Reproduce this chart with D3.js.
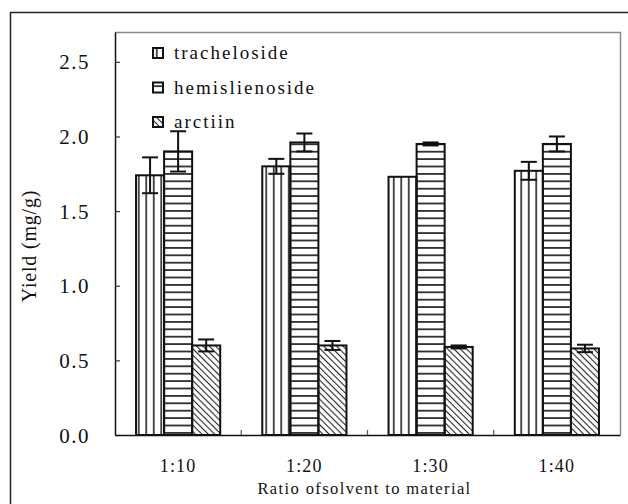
<!DOCTYPE html>
<html>
<head>
<meta charset="utf-8">
<script src="https://cdn.jsdelivr.net/npm/d3@7"></script>
<style>
  body { margin: 0; background: #fff; }
  svg text { font-family: 'Liberation Serif', 'Times New Roman', serif; fill: #111; }
</style>
</head>
<body>
<svg id="chart" width="628" height="504"></svg>
<script>
const categories = ['1:10', '1:20', '1:30', '1:40'];
const seriesNames = ['tracheloside', 'hemislienoside', 'arctiin'];
const tracheloside = [1.74, 1.80, 1.73, 1.77];
const trachelosideErr = [0.12, 0.05, 0.0, 0.06];
const hemislienoside = [1.90, 1.96, 1.95, 1.95];
const hemislienosideErr = [0.135, 0.06, 0.01, 0.05];
const arctiin = [0.60, 0.60, 0.59, 0.58];
const arctiinErr = [0.04, 0.03, 0.01, 0.025];
const yTicks = [0, 0.5, 1.0, 1.5, 2.0, 2.5];

const values = [tracheloside, hemislienoside, arctiin];
const errors = [trachelosideErr, hemislienosideErr, arctiinErr];

const svg = d3.select('#chart');
const margin = { top: 32, right: 8, bottom: 69, left: 115 };
const width = +svg.attr('width') - margin.left - margin.right;
const height = +svg.attr('height') - margin.top - margin.bottom;
const serif = "'Liberation Serif', 'Times New Roman', serif";

// outer frame (runs off the right and bottom edges)
svg.append('rect')
    .attr('x', 10.5).attr('y', 12.5)
    .attr('width', 700).attr('height', 600)
    .attr('fill', 'none').attr('stroke', '#222').attr('stroke-width', 1.5);

// patterns
const defs = svg.append('defs');
const pv = defs.append('pattern').attr('id', 'pat-v')
    .attr('patternUnits', 'userSpaceOnUse').attr('width', 7.5).attr('height', 10);
pv.append('line').attr('x1', 3.75).attr('x2', 3.75).attr('y1', 0).attr('y2', 10)
    .attr('stroke', '#222').attr('stroke-width', 1.6);
const ph = defs.append('pattern').attr('id', 'pat-h')
    .attr('patternUnits', 'userSpaceOnUse').attr('width', 10).attr('height', 7.4);
ph.append('line').attr('x1', 0).attr('x2', 10).attr('y1', 3.7).attr('y2', 3.7)
    .attr('stroke', '#333').attr('stroke-width', 1.8);
const pd = defs.append('pattern').attr('id', 'pat-d')
    .attr('patternUnits', 'userSpaceOnUse').attr('width', 4.5).attr('height', 4.5)
    .attr('patternTransform', 'rotate(45)');
pd.append('line').attr('x1', 0).attr('x2', 4.5).attr('y1', 2.25).attr('y2', 2.25)
    .attr('stroke', '#222').attr('stroke-width', 1.1);
const fills = ['url(#pat-v)', 'url(#pat-h)', 'url(#pat-d)'];

const x = d3.scaleBand()
    .domain(categories)
    .range([margin.left, margin.left + width]);

const xSub = d3.scaleBand()
    .domain(seriesNames)
    .range([0, x.bandwidth()])
    .paddingInner(0)
    .paddingOuter(0.75);

const y = d3.scaleLinear()
    .domain([0, 2.7])
    .range([margin.top + height, margin.top]);

// plot frame: top and right in grey
svg.append('path')
    .attr('d', `M${margin.left},${margin.top + 0.5}H${margin.left + width + 0.5}V${margin.top + height}`)
    .attr('fill', 'none').attr('stroke', '#8a8a8a').attr('stroke-width', 1.5);

// bars
const rows = [];
categories.forEach((c, i) => {
    seriesNames.forEach((s, j) => {
        rows.push({ cat: c, series: s, si: j, value: values[j][i], err: errors[j][i] });
    });
});

const g = svg.append('g');
g.selectAll('rect.bar')
    .data(rows)
    .join('rect')
    .attr('class', 'bar')
    .attr('x', d => x(d.cat) + xSub(d.series))
    .attr('y', d => y(d.value))
    .attr('width', xSub.bandwidth())
    .attr('height', d => y(0) - y(d.value))
    .attr('fill', '#fff');

g.selectAll('rect.pat')
    .data(rows)
    .join('rect')
    .attr('class', 'pat')
    .attr('x', d => x(d.cat) + xSub(d.series))
    .attr('y', d => y(d.value))
    .attr('width', xSub.bandwidth())
    .attr('height', d => y(0) - y(d.value))
    .attr('fill', d => fills[d.si])
    .attr('stroke', '#111')
    .attr('stroke-width', 2);

// error bars
const capW = 8;
const eb = g.selectAll('g.err')
    .data(rows.filter(d => d.err > 0))
    .join('g')
    .attr('class', 'err')
    .attr('stroke', '#111')
    .attr('stroke-width', 2);
eb.append('line')
    .attr('x1', d => x(d.cat) + xSub(d.series) + xSub.bandwidth() / 2)
    .attr('x2', d => x(d.cat) + xSub(d.series) + xSub.bandwidth() / 2)
    .attr('y1', d => y(d.value + d.err))
    .attr('y2', d => y(d.value - d.err));
eb.selectAll('line.cap')
    .data(d => [d.value + d.err, d.value - d.err].map(v => ({ d, v })))
    .join('line')
    .attr('class', 'cap')
    .attr('x1', o => x(o.d.cat) + xSub(o.d.series) + xSub.bandwidth() / 2 - capW)
    .attr('x2', o => x(o.d.cat) + xSub(o.d.series) + xSub.bandwidth() / 2 + capW)
    .attr('y1', o => y(o.v))
    .attr('y2', o => y(o.v));

// y axis
const yAxis = svg.append('g')
    .attr('transform', `translate(${margin.left},0)`)
    .call(d3.axisLeft(y).tickValues(yTicks).tickFormat(d3.format('.1f')).tickSizeInner(-5).tickSizeOuter(0))
    .attr('font-family', serif);
yAxis.select('.domain').attr('stroke', '#111').attr('stroke-width', 1.5);
yAxis.selectAll('.tick line').attr('stroke', '#333').attr('stroke-width', 1.2);
yAxis.selectAll('.tick text')
    .attr('x', -25)
    .attr('dy', '0.34em')
    .attr('font-size', 21)
    .attr('letter-spacing', 1.5);

// x axis
const xAxis = svg.append('g')
    .attr('transform', `translate(0,${margin.top + height})`)
    .call(d3.axisBottom(x).tickSize(0).tickPadding(24))
    .attr('font-family', serif);
xAxis.select('.domain').attr('stroke', '#111').attr('stroke-width', 1.5);
xAxis.selectAll('.tick text')
    .attr('font-size', 18)
    .attr('letter-spacing', 1.2);

// separators between categories
svg.append('g')
    .selectAll('line')
    .data(categories.slice(1))
    .join('line')
    .attr('x1', d => x(d)).attr('x2', d => x(d))
    .attr('y1', y(0)).attr('y2', y(0) - 5)
    .attr('stroke', '#555').attr('stroke-width', 1.2);

// axis titles
svg.append('text')
    .attr('x', margin.left + width / 2 - 3)
    .attr('y', 494)
    .attr('text-anchor', 'middle')
    .attr('font-size', 16.5)
    .attr('letter-spacing', 1.4)
    .text('Ratio ofsolvent to material');

svg.append('text')
    .attr('transform', `translate(36,${246}) rotate(-90)`)
    .attr('text-anchor', 'middle')
    .attr('font-size', 20)
    .attr('letter-spacing', 0.8)
    .text('Yield (mg/g)');

// legend
const legend = svg.append('g')
    .selectAll('g')
    .data(seriesNames)
    .join('g')
    .attr('transform', (d, i) => `translate(153,${48 + i * 34.5})`);
legend.append('rect')
    .attr('width', 10).attr('height', 10)
    .attr('fill', '#fff');
legend.append('rect')
    .attr('width', 10).attr('height', 10)
    .attr('fill', (d, i) => fills[i])
    .attr('stroke', '#111').attr('stroke-width', 2);
legend.append('text')
    .attr('x', 21)
    .attr('y', 11)
    .attr('font-size', 19)
    .attr('letter-spacing', 2)
    .text(d => d);
</script>
</body>
</html>
